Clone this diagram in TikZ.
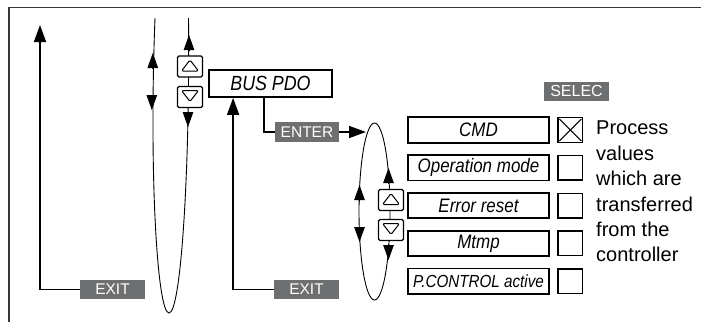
\documentclass[tikz,border=0pt]{standalone}
\usepackage{fontspec}
\setmainfont{Liberation Sans}
\newfontfamily\condfont[FakeStretch=0.87]{Liberation Sans}
\usetikzlibrary{arrows.meta,positioning}
\definecolor{keygray}{RGB}{110,111,113}
\definecolor{framegray}{RGB}{55,55,55}
\tikzset{
  keyblk/.style={fill=keygray,text=white,minimum width=65pt,minimum height=19pt,inner sep=0pt,font=\fontsize{15.5}{18}\selectfont},
  menublk/.style={draw,line width=1.8pt,minimum width=141pt,minimum height=25.5pt,inner sep=0pt,font=\condfont\fontsize{19.5}{22}\selectfont\itshape},
  chkblk/.style={draw,line width=1.4pt,minimum size=24.6pt,inner sep=0pt},
  btnblk/.style={draw,line width=1.2pt,rounded corners=1.5pt,fill=white,minimum width=25pt,minimum height=21pt,inner sep=0pt},
  upbtn/.style={btnblk,path picture={\draw[line width=1pt]
    ([shift={(0pt,6.5pt)}]path picture bounding box.center) --
    ([shift={(8.5pt,-4.5pt)}]path picture bounding box.center) --
    ([shift={(-8.5pt,-4.5pt)}]path picture bounding box.center) -- cycle;}},
  dnbtn/.style={btnblk,path picture={\draw[line width=1pt]
    ([shift={(0pt,-4.5pt)}]path picture bounding box.center) --
    ([shift={(8.5pt,6.5pt)}]path picture bounding box.center) --
    ([shift={(-8.5pt,6.5pt)}]path picture bounding box.center) -- cycle;}},
  arr/.style={-{Triangle[length=17pt,width=12pt]},line width=1.6pt},
  looppath/.style={line width=0.9pt},
  midtip/.style={-{Triangle[length=15pt,width=10.5pt]},line width=0.9pt},
  lbl/.style={font=\fontsize{20}{25.4}\selectfont,align=left,inner sep=0pt}
}
\begin{document}
\begin{tikzpicture}[x=1pt,y=-1pt]
  \useasboundingbox (0,0) rectangle (701,322);
  % frame
  \draw[framegray,line width=1.3pt] (9,322) -- (9,7.5) -- (701,7.5);

  % first loop with scroll keys
  \draw[looppath] (155,18) .. controls (149,170) and (157,313) .. (169,313)
    .. controls (181,313) and (190,170) .. (188.5,18);
  \draw[midtip] (152.8,68) -- (152.8,53);
  \draw[midtip] (151.8,95) -- (151.8,110);
  \draw[midtip] (189,50) -- (189,35);
  \draw[midtip] (188,113) -- (188,127);
  \node[upbtn] (upA) at (190,66.5) {};
  \node[dnbtn] (dnA) at (190,97) {};

  \node[draw,line width=1.8pt,minimum width=123pt,minimum height=27pt,inner sep=0pt,
        font=\condfont\fontsize{20.5}{22}\selectfont\itshape] (bus) at (270.5,83.5) {BUS PDO};

  \node[keyblk] (exitL) at (112.5,289.5) {EXIT};
  \node[keyblk] (exitM) at (306.5,289.5) {EXIT};
  \node[keyblk,minimum width=64pt,minimum height=20pt] (enter) at (307,132) {ENTER};

  \coordinate (topL) at (40,25);
  \coordinate (enterTip) at (366,132);
  \draw[arr] (exitL.west) -| (topL);
  \draw[arr] (exitM.west) -| ([xshift=25pt]bus.south west);
  \draw[line width=1.6pt] ([xshift=-6.5pt]bus.south) |- (enter.west);
  \draw[arr] (enter.east) -- (enterTip);

  % second loop with scroll keys
  \draw[looppath] (374.5,211.5) ellipse [x radius=15.5, y radius=88.5];
  \draw[midtip] (359.5,202) -- (359.5,185);
  \draw[midtip] (359.5,228) -- (359.5,242);
  \draw[midtip] (388.5,183) -- (388.5,168);
  \draw[midtip] (388.5,244) -- (388.5,260);
  \node[upbtn] (upB) at (391,200) {};
  \node[dnbtn] (dnB) at (391,230) {};

  % menu entries
  \node[menublk] (cmd) at (478.5,130) {CMD};
  \node[menublk,below=10.5pt of cmd] (opmode) {Operation mode};
  \node[menublk,below=10.5pt of opmode] (errreset) {Error reset};
  \node[menublk,below=10.5pt of errreset] (mtmp) {Mtmp};
  \node[menublk,below=10.5pt of mtmp,font=\condfont\fontsize{17.5}{20}\selectfont\itshape] (pctrl) {P.CONTROL active};

  \node[chkblk,right=7.5pt of cmd] (chkcmd) {};
  \node[chkblk,right=7.5pt of opmode] (chkop) {};
  \node[chkblk,right=7.5pt of errreset] (chkerr) {};
  \node[chkblk,right=7.5pt of mtmp] (chkmt) {};
  \node[chkblk,right=7.5pt of pctrl] (chkpc) {};
  \draw[line width=1pt] ([shift={(2pt,-2pt)}]chkcmd.north west) -- ([shift={(-2pt,2pt)}]chkcmd.south east);
  \draw[line width=1pt] ([shift={(2pt,2pt)}]chkcmd.south west) -- ([shift={(-2pt,-2pt)}]chkcmd.north east);

  \node[keyblk,font=\fontsize{16}{18}\selectfont] (selec) at (576.5,91) {SELEC};
  \node[lbl,anchor=north west] (note) at (596,121) {Process\\values\\which are\\transferred\\from the\\controller};
\end{tikzpicture}
\end{document}
